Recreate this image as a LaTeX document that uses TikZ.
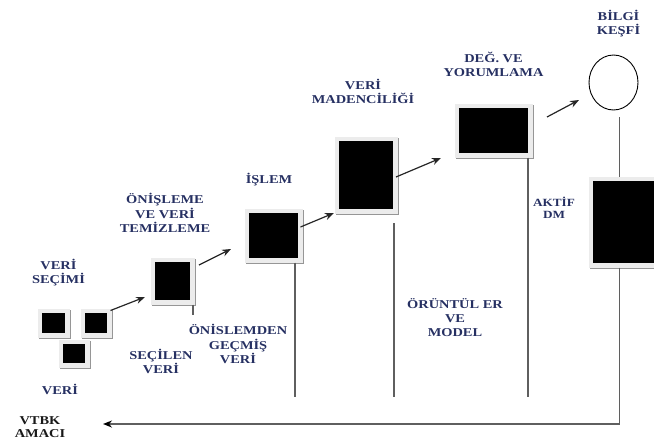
\documentclass[tikz,border=0pt]{standalone}
\usepackage{fontspec}
\newfontfamily\lblfont[FakeStretch=1.2]{Liberation Serif}
\usetikzlibrary{arrows.meta,calc,shapes.geometric}
\definecolor{ink}{RGB}{38,48,98}
\definecolor{framegray}{RGB}{236,236,236}
\definecolor{shadegray}{RGB}{150,150,150}
\definecolor{linegray}{RGB}{95,95,95}

\begin{document}
\begin{tikzpicture}[x=1pt,y=-1pt,
  box/.style={fill=black, draw=framegray, line width=4.5pt, inner sep=0pt, outer sep=2.25pt,
    preaction={draw=shadegray, fill=shadegray, line width=4.5pt,
      transform canvas={shift={(1.8pt,-1.8pt)}}}},
  lbl/.style={text=ink, align=center, inner sep=0pt,
    font=\lblfont\bfseries\fontsize{12}{14.5}\selectfont},
  stem/.style={draw=linegray, line width=1.5pt},
  arr/.style={draw=black!85, line width=1.2pt, -{Stealth[length=9pt,width=7pt]}},
]
\useasboundingbox (0,0) rectangle (654,440);
\clip (0,0) rectangle (654,440);

% framed black blocks
\node[box, minimum width=27.5, minimum height=24.5] (selA) at (53.5,323) {};
\node[box, minimum width=26.5, minimum height=24.5] (selB) at (96,323) {};
\node[box, minimum width=26.5, minimum height=23.5] (selC) at (74,353.5) {};
\node[box, minimum width=39.5, minimum height=42.5] (prep) at (172.5,281) {};
\node[box, minimum width=53.5, minimum height=49.5] (proc) at (273.5,235.5) {};
\node[box, minimum width=58.5, minimum height=72.5] (mine) at (366,175) {};
\node[box, minimum width=73.5, minimum height=49.5] (eval) at (493.5,130.5) {};
\node[box, minimum width=76.5, minimum height=86.5] (act) at (629,222) {};
\node[draw=black, line width=0.9pt, ellipse, minimum width=49, minimum height=55, inner sep=0pt] (goal) at (613.5,82.5) {};

% vertical stems
\coordinate (prepEnd) at (193,315);
\coordinate (procEnd) at (295,397);
\coordinate (mineEnd) at (394,397);
\coordinate (evalEnd) at (528,397);
\coordinate (hx) at (619.5,0);
\coordinate (corner) at (619.5,424);
\coordinate (aim) at (103,424);
\draw[stem] (prepEnd |- prep.south) -- (prepEnd);
\draw[stem] (procEnd |- proc.south) -- (procEnd);
\draw[stem] ($(mineEnd |- mine.south)+(0,9.5)$) -- (mineEnd);
\draw[stem] (evalEnd |- eval.south) -- (evalEnd);
\draw[stem] ($(hx |- goal.south)+(0,7)$) -- (hx |- act.north);
\draw[stem, -{Stealth[length=9pt,width=7pt,color=black]}] (hx |- act.south) -- (corner) -- (aim);

% step arrows
\coordinate (tipPrep) at (145,297);
\coordinate (tipProc) at (231,249);
\coordinate (tipMine) at (334,213);
\coordinate (tipEval) at (441,158);
\coordinate (tipGoal) at (579,100);
\draw[arr] ($(selB.north east)+(-1,2)$) -- (tipPrep);
\draw[arr] ($(prep.north east)+(4.5,7.5)$) -- (tipProc);
\draw[arr] ($(proc.east)+(-2,-8.5)$) -- (tipMine);
\draw[arr] ($(mine.east)+(-1.5,2)$) -- (tipEval);
\draw[arr] ($(eval.north east)+(14.5,13.5)$) -- (tipGoal);

% labels
\node[lbl] (tSel) at (58.5,272.5) {VERİ\\SEÇİMİ};
\node[lbl] (tData) at (60,389) {VERİ};
\node[lbl, text=black!90, font=\lblfont\bfseries\fontsize{12}{13}\selectfont] (tGoal) at (40,427.5) {VTBK\\AMACI};
\node[lbl] (tChosen) at (161,361.5) {SEÇİLEN\\VERİ};
\node[lbl] (tPrepd) at (238,344) {ÖNİSLEMDEN\\GEÇMİŞ\\VERİ};
\node[lbl] (tPrep) at (165,213) {ÖNİŞLEME\\VE VERİ\\TEMİZLEME};
\node[lbl] (tProc) at (269,180) {İŞLEM};
\node[lbl] (tMine) at (363,91.5) {VERİ\\MADENCİLİĞİ};
\node[lbl, font=\lblfont\bfseries\fontsize{12}{14}\selectfont] (tEval) at (493.5,64) {DEĞ. VE\\YORUMLAMA};
\node[lbl, font=\lblfont\bfseries\fontsize{12}{14}\selectfont] (tKnow) at (618.5,23.5) {BİLGİ\\KEŞFİ};
\node[lbl, font=\lblfont\bfseries\fontsize{11}{12}\selectfont] (tAct) at (554,208) {AKTİF\\DM};
\node[lbl, font=\lblfont\bfseries\fontsize{12}{14}\selectfont] (tPat) at (455,318) {ÖRÜNTÜL ER\\VE\\MODEL};
\end{tikzpicture}
\end{document}
